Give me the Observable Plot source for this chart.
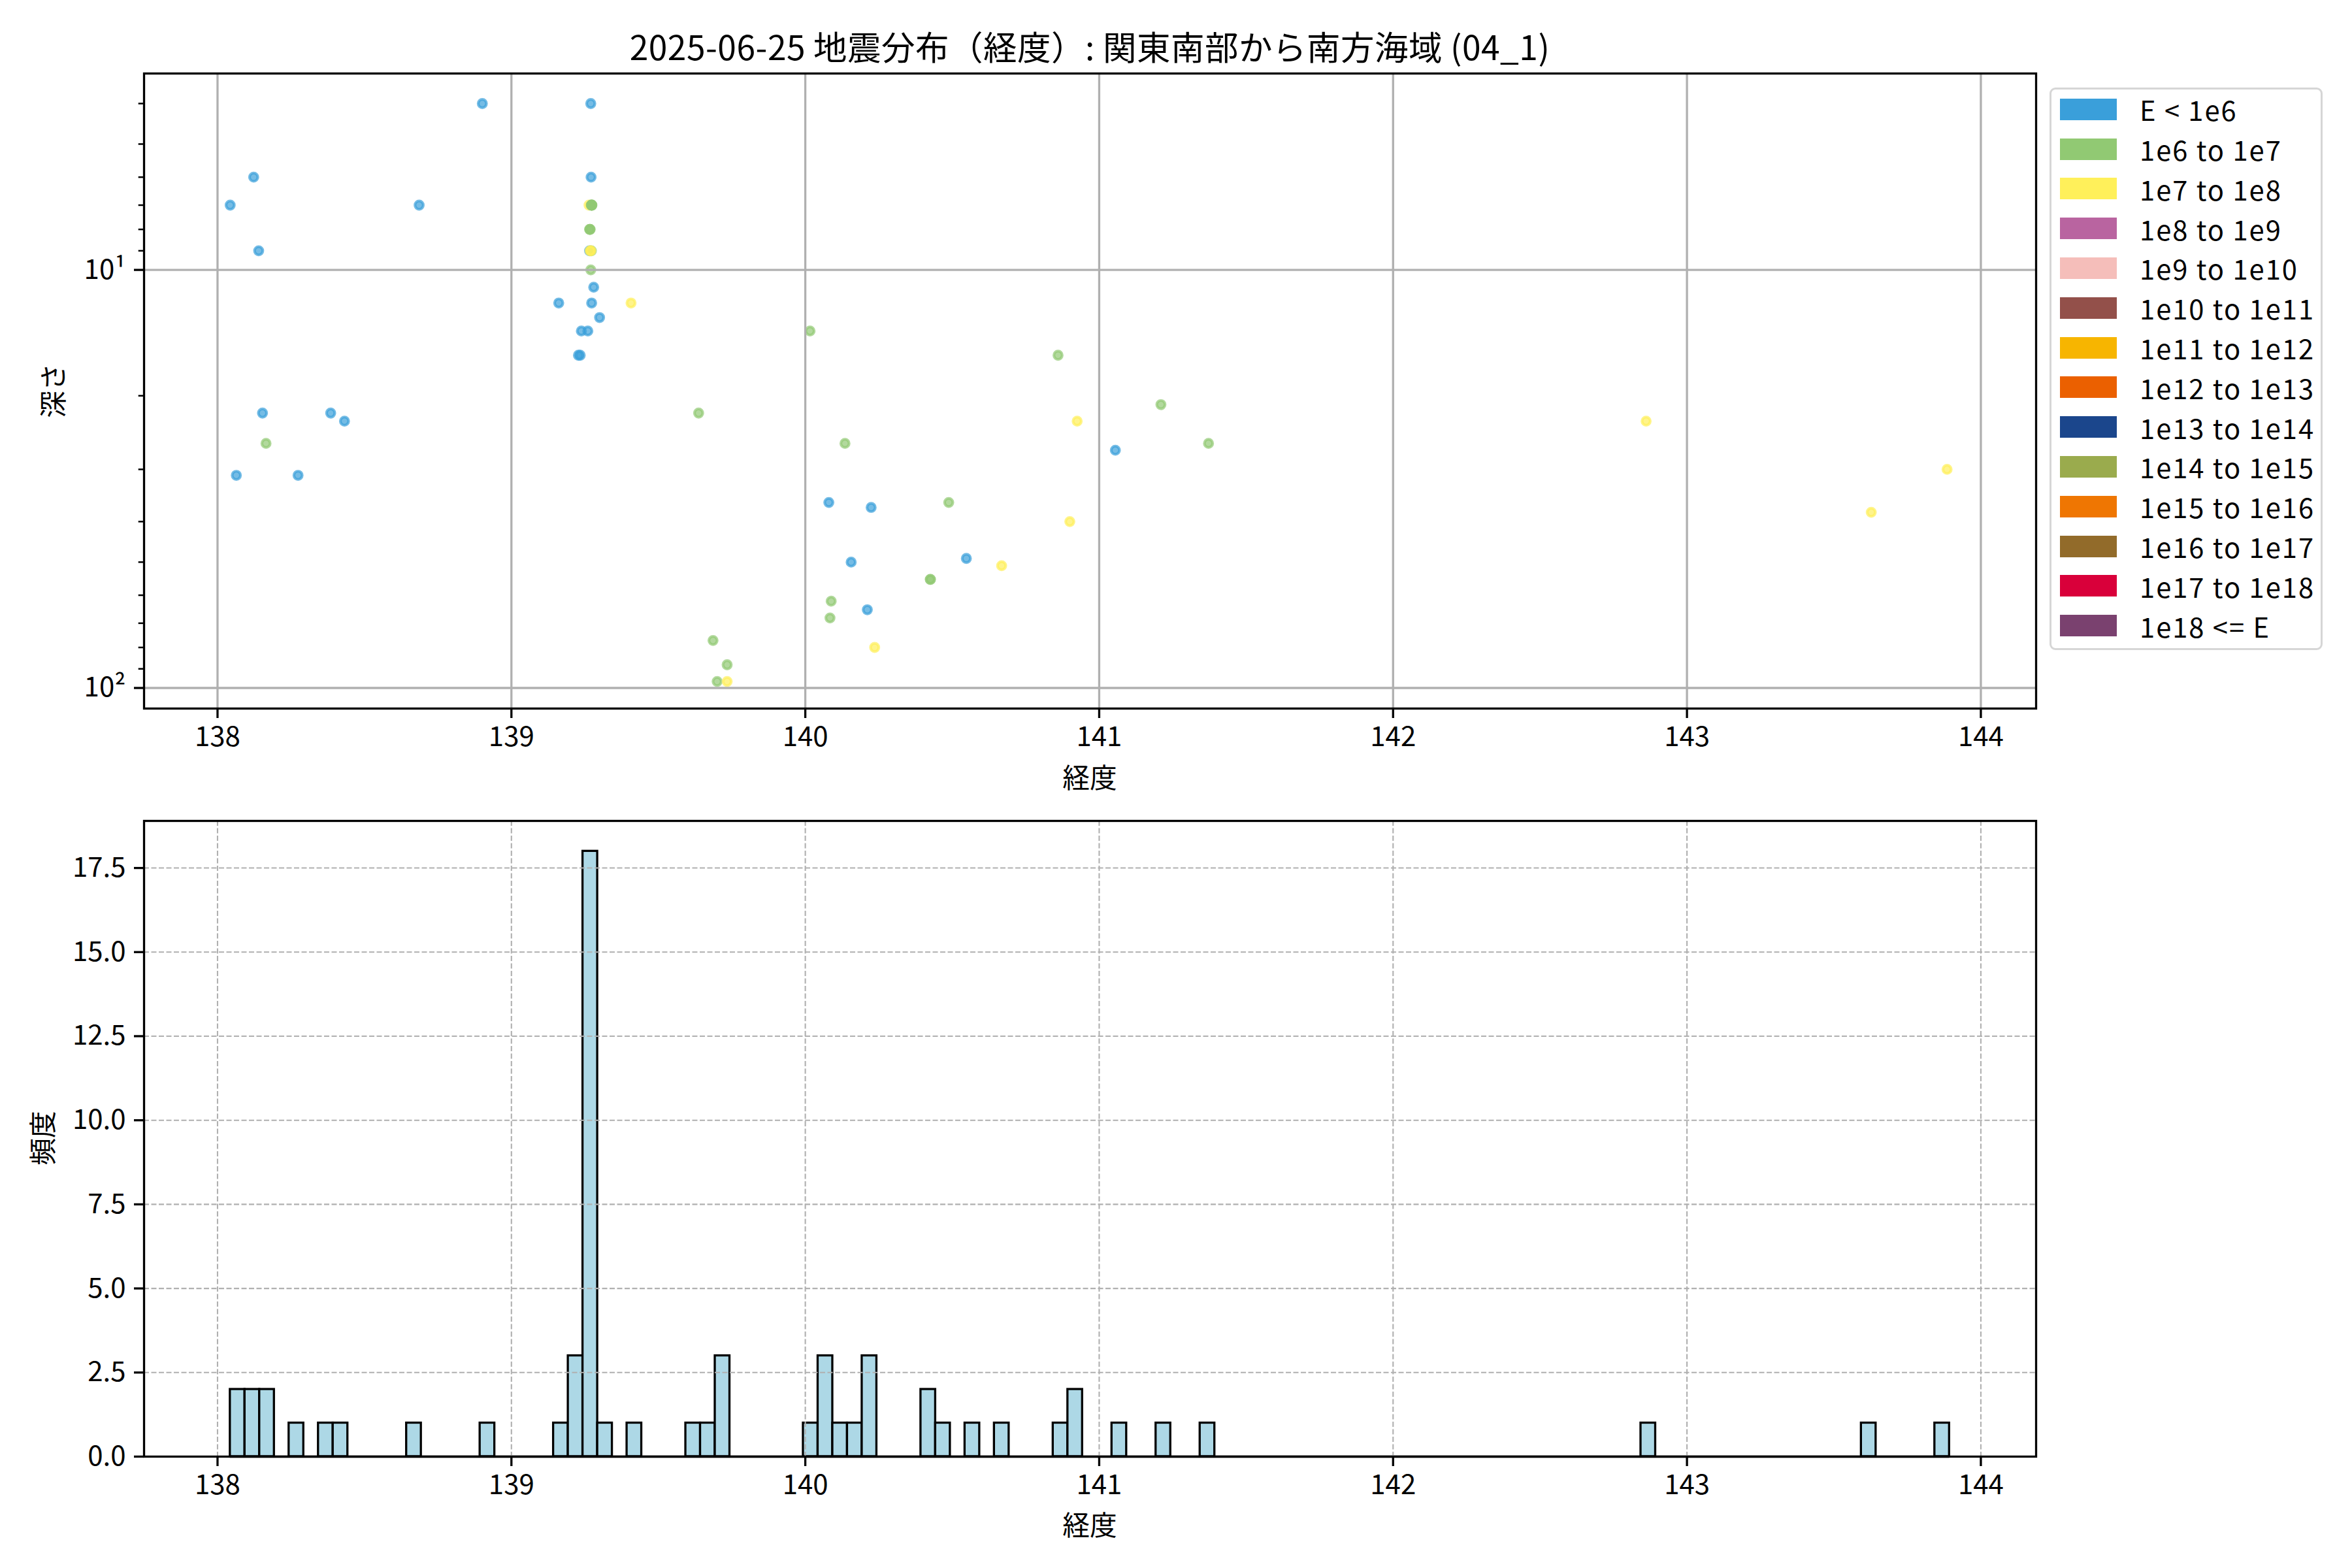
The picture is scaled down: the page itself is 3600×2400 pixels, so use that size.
<!DOCTYPE html>
<html><head><meta charset="utf-8">
<script src="https://cdn.jsdelivr.net/npm/d3@7"></script>
<script src="https://cdn.jsdelivr.net/npm/@observablehq/plot@0.6"></script>
<style>
body{margin:0;background:#fff;}
#root{position:relative;width:3600px;height:2400px;background:#fff;font-family:"Noto Sans CJK JP","Noto Sans",sans-serif;color:#000;overflow:hidden;}
.abs{position:absolute;white-space:nowrap;}
svg{position:absolute;left:0;}
</style></head><body><div id="root"></div>
<script>
// ---- text ----
const title = "2025-06-25 地震分布（経度）: 関東南部から南方海域 (04_1)";
const xLabel = "経度";
const yLabelTop = "深さ";
const yLabelBottom = "頻度";

// ---- legend categories ----
const energyClasses = ["E < 1e6","1e6 to 1e7","1e7 to 1e8","1e8 to 1e9","1e9 to 1e10","1e10 to 1e11","1e11 to 1e12","1e12 to 1e13","1e13 to 1e14","1e14 to 1e15","1e15 to 1e16","1e16 to 1e17","1e17 to 1e18","1e18 <= E"];
const classColors = ["#3A9FDA","#91C973","#FFF05A","#B964A0","#F5BEBA","#93504A","#F7B500","#EB6000","#1B468C","#9AAB4D","#EF7602","#926B2A","#D9003A","#7A416F"];

// ---- events: longitude, depth (km), energy class index ----
const lon = [
  138.901,139.270,138.123,139.271,138.043,138.686,138.140,139.266,139.280,139.161,139.273,139.300,139.238,139.260,139.228,139.234,
  138.153,138.385,138.432,138.064,138.274,141.055,140.080,140.224,140.156,140.548,140.211,
  139.264,139.272,139.273,139.274,139.273,139.267,139.266,139.268,139.272,139.270,139.268,139.270,
  140.016,140.860,141.210,139.637,138.165,140.135,141.372,140.488,140.425,140.426,140.088,140.084,139.686,139.734,139.700,
  139.407,140.925,140.900,140.668,140.236,139.734,142.861,143.627,143.885
];
const depth = [
  4.0,4.0,6.0,6.0,7.0,7.0,9.0,9.0,11.0,12.0,12.0,13.0,14.0,14.0,16.0,16.0,
  22.0,22.0,23.0,31.0,31.0,27.0,36.0,37.0,50.0,49.0,65.0,
  7.0,7.0,7.0,7.0,7.0,8.0,8.0,8.0,9.0,10.0,9.0,9.0,
  14.0,16.0,21.0,22.0,26.0,26.0,26.0,36.0,55.0,55.0,62.0,68.0,77.0,88.0,96.5,
  12.0,23.0,40.0,51.0,80.0,96.5,23.0,38.0,30.0
];
const cls = [
  0,0,0,0,0,0,0,0,0,0,0,0,0,0,0,0,
  0,0,0,0,0,0,0,0,0,0,0,
  2,1,1,1,1,1,1,1,1,1,2,2,
  1,1,1,1,1,1,1,1,1,1,1,1,1,1,1,
  2,2,2,2,2,2,2,2,2
];

// ---- axes ----
const lonDomain = [137.75, 144.188];
const lonTicks = [138,139,140,141,142,143,144];
const depthDomain = [3.39, 112];
const depthMajorTicks = [10,100];
const depthMinorTicks = [4,5,6,7,8,9,20,30,40,50,60,70,80,90];
const countDomain = [0, 18.9];
const countTicks = [0,2.5,5,7.5,10,12.5,15,17.5];
const binWidth = 0.05;

// ---- build ----
const root = document.getElementById("root");
const FONT = '"Noto Sans CJK JP","Noto Sans",sans-serif';
const points = lon.map((x,i)=>({lon:x, depth:depth[i], cls:energyClasses[cls[i]]}));
const sup = {1:"¹",2:"²"};
const gridSolid = {stroke:"#b0b0b0", strokeOpacity:1, strokeWidth:3.3};
const gridDash = {stroke:"#b0b0b0", strokeOpacity:1, strokeWidth:2.1, strokeDasharray:"8,3.5"};
const style = {fontFamily:FONT, fontSize:"42px", background:"transparent", overflow:"visible", color:"#000"};

const topPlot = Plot.plot({
  width:3600, height:1200,
  marginLeft:220, marginRight:484, marginTop:112, marginBottom:116,
  style,
  x:{domain:lonDomain},
  y:{type:"log", domain:depthDomain, reverse:true},
  color:{domain:energyClasses, range:classColors},
  marks:[
    Plot.dot(points,{x:"lon", y:"depth", fill:"cls", stroke:"cls", r:6.3, strokeWidth:4.2, fillOpacity:0.7, strokeOpacity:0.7}),
    Plot.gridX(lonTicks, gridSolid),
    Plot.gridY(depthMajorTicks, gridSolid),
    Plot.axisX(lonTicks,{tickSize:15, tickPadding:13, strokeWidth:3.3, label:null, tickFormat:d=>String(d)}),
    Plot.axisY(depthMajorTicks,{tickSize:15, tickPadding:13, strokeWidth:3.3, label:null, tickFormat:d=>"10"+sup[Math.round(Math.log10(d))]}),
    Plot.axisY(depthMinorTicks,{tickSize:8.3, strokeWidth:2.5, label:null, tickFormat:()=>""}),
    Plot.frame({stroke:"black", strokeWidth:3.3})
  ]
});
topPlot.style.top = "0px";
root.appendChild(topPlot);

// histogram bins starting at the smallest longitude
const start = d3.min(lon);
const nBins = Math.ceil((d3.max(lon) - start) / binWidth);
const edges = d3.range(nBins + 1).map(i => start + i * binWidth);
const bins = d3.bin().domain([edges[0], edges[edges.length-1]]).thresholds(edges)(lon);

const botPlot = Plot.plot({
  width:3600, height:1200,
  marginLeft:220, marginRight:484, marginTop:56, marginBottom:171,
  style,
  x:{domain:lonDomain},
  y:{domain:countDomain},
  marks:[
    Plot.rectY(bins.filter(b=>b.length>0),{x1:"x0", x2:"x1", y:b=>b.length, fill:"#ADD8E6", stroke:"black", strokeWidth:3.3, inset:0}),
    Plot.ruleY([0],{x1:edges[0], x2:edges[edges.length-1], stroke:"black", strokeWidth:3.3}),
    Plot.gridX(lonTicks, gridDash),
    Plot.gridY(countTicks, gridDash),
    Plot.axisX(lonTicks,{tickSize:15, tickPadding:13, strokeWidth:3.3, label:null, tickFormat:d=>String(d)}),
    Plot.axisY(countTicks,{tickSize:15, tickPadding:13, strokeWidth:3.3, label:null, tickFormat:d=>d.toFixed(1)}),
    Plot.frame({stroke:"black", strokeWidth:3.3})
  ]
});
botPlot.style.top = "1200px";
root.appendChild(botPlot);

// ---- texts ----
function addText(txt, x, y, size, rotate){
  const d = document.createElement("div");
  d.className = "abs";
  d.textContent = txt;
  d.style.left = x + "px"; d.style.top = y + "px";
  d.style.fontSize = size + "px"; d.style.lineHeight = "1";
  d.style.transform = "translate(-50%,-50%)" + (rotate ? " rotate(-90deg)" : "");
  root.appendChild(d);
  return d;
}
const t = addText(title, 1668, 70, 51.5);
t.style.letterSpacing = "0.5px";
addText(xLabel, 1668, 1189, 41.7);
addText(xLabel, 1668, 2333, 41.7);
addText(yLabelTop, 80, 598, 41.7, true);
addText(yLabelBottom, 64, 1742, 41.7, true);

// ---- legend ----
const lg = document.createElement("div");
lg.className = "abs";
Object.assign(lg.style,{left:"3137px", top:"134px", width:"418px", height:"861px", boxSizing:"border-box",
  border:"3.5px solid #d6d6d6", borderRadius:"9px", background:"rgba(255,255,255,0.8)"});
energyClasses.forEach((name,i)=>{
  const cy = 33.7 + i*60.8;
  const sw = document.createElement("div");
  Object.assign(sw.style,{position:"absolute", left:"13px", top:(cy-16.5-3.5)+"px", width:"87px", height:"33px", background:classColors[i]});
  lg.appendChild(sw);
  const tx = document.createElement("div");
  tx.textContent = name;
  Object.assign(tx.style,{position:"absolute", left:"135px", top:(cy-21-3.5)+"px", height:"42px", lineHeight:"42px", fontSize:"41.7px", letterSpacing:"2px", whiteSpace:"nowrap"});
  lg.appendChild(tx);
});
root.appendChild(lg);
</script></body></html>
